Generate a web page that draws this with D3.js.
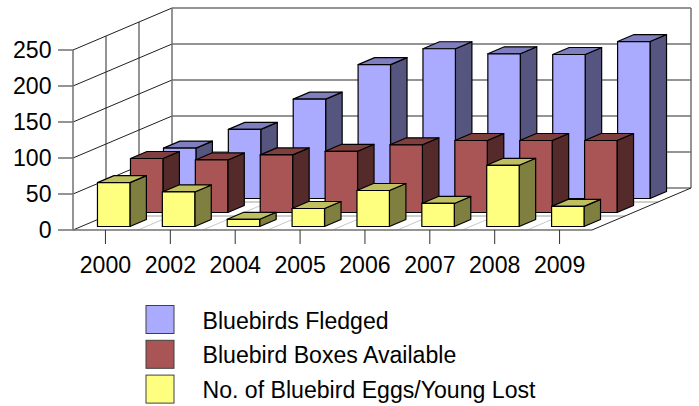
<!DOCTYPE html>
<html>
<head>
<meta charset="utf-8">
<script src="https://cdn.jsdelivr.net/npm/d3@7"></script>
<style>
  html, body { margin: 0; padding: 0; background: #fff; }
  svg { display: block; }
  text { font-family: "Liberation Sans", Arial, sans-serif; font-size: 23.1px; fill: #000; }
</style>
</head>
<body>
<div id="chart"></div>
<script>
var years = ["2000", "2002", "2004", "2005", "2006", "2007", "2008", "2009"];
var fledged = [70, 96, 138, 186, 208, 201, 200, 218];
var boxes = [75, 73, 80, 85, 94, 100, 100, 100];
var lost = [61, 48, 10, 25, 50, 32, 85, 28];
var yTicks = [0, 50, 100, 150, 200, 250];
var seriesNames = ["Bluebirds Fledged", "Bluebird Boxes Available", "No. of Bluebird Eggs/Young Lost"];

var w = 699, h = 406;
var x0 = 73, x1 = 592, floorY = 230, wallH = 180;
var depth = [99, -42]; // shift of the back wall against the front edge

var x = d3.scaleBand().domain(years).range([x0, x1]).paddingInner(0.5).paddingOuter(0.25);
var band = d3.scaleBand().domain(years).range([x0, x1]);
var y = d3.scaleLinear().domain([0, 250]).range([floorY, floorY - wallH]);
// z runs from the front edge (0) to the back wall (1)
var z = d3.scaleBand().domain([2, 1, 0]).range([0, 1]).paddingInner(0.5).paddingOuter(0.25);

var rows = [
  { i: 0, values: fledged, front: "#aaaaff", top: "#7f7fbf", side: "#55557f" },
  { i: 1, values: boxes, front: "#aa5555", top: "#7f3f3f", side: "#552a2a" },
  { i: 2, values: lost, front: "#ffff7f", top: "#bfbf5f", side: "#7f7f3f" }
];

function px(xv, zv) { return xv + zv * depth[0]; }
function py(yv, zv) { return yv + zv * depth[1]; }
function pts(list) {
  return list.map(function(p) { return px(p[0], p[2]) + "," + py(p[1], p[2]); }).join(" ");
}

var svg = d3.select("#chart").append("svg").attr("width", w).attr("height", h);
var wall = svg.append("g").attr("fill", "none").attr("stroke", "#707070").attr("stroke-width", 1.5);

// floor grid
years.slice(1).forEach(function(d) {
  wall.append("line").attr("stroke", "#c8c8c8").attr("stroke-width", 1)
    .attr("x1", band(d)).attr("y1", floorY)
    .attr("x2", px(band(d), 1)).attr("y2", py(floorY, 1));
});
[1 / 3, 2 / 3].forEach(function(t) {
  wall.append("line").attr("stroke", "#a0a0a0").attr("stroke-width", 1)
    .attr("x1", px(x0, t)).attr("y1", py(floorY, t))
    .attr("x2", px(x1, t)).attr("y2", py(floorY, t));
  wall.append("line")
    .attr("x1", px(x0, t)).attr("y1", py(y(250), t))
    .attr("x2", px(x0, t)).attr("y2", py(floorY, t));
});

// gridlines on the back and side walls
yTicks.forEach(function(t) {
  wall.append("line").attr("x1", px(x0, 1)).attr("x2", px(x1, 1)).attr("y1", py(y(t), 1)).attr("y2", py(y(t), 1))
    .attr("stroke", t === 0 ? "#303030" : "#707070").attr("stroke-width", t === 0 ? 1 : 1.5);
  wall.append("line").attr("x1", x0).attr("y1", y(t)).attr("x2", px(x0, 1)).attr("y2", py(y(t), 1))
    .attr("stroke", "#202020").attr("stroke-width", 1);
  wall.append("line").attr("x1", x0 - 15).attr("x2", x0).attr("y1", y(t)).attr("y2", y(t));
  svg.append("text").attr("x", 51.5).attr("y", y(t) + 8).attr("text-anchor", "end").text(t);
});
wall.append("line").attr("x1", x0).attr("x2", x0).attr("y1", y(250)).attr("y2", floorY);
wall.append("line").attr("x1", px(x0, 1)).attr("x2", px(x0, 1)).attr("y1", py(y(250), 1)).attr("y2", py(floorY, 1));
wall.append("line").attr("x1", px(x1, 1)).attr("x2", px(x1, 1)).attr("y1", py(y(250), 1)).attr("y2", py(floorY, 1));
wall.append("line").attr("x1", x0).attr("x2", x1).attr("y1", floorY).attr("y2", floorY);
wall.append("line").attr("x1", x1).attr("y1", floorY).attr("x2", px(x1, 1)).attr("y2", py(floorY, 1))
  .attr("stroke", "#202020").attr("stroke-width", 1);

// x ticks and labels
years.forEach(function(d) {
  var c = band(d) + band.bandwidth() / 2;
  wall.append("line").attr("x1", c).attr("x2", c).attr("y1", floorY).attr("y2", floorY + 14)
    .attr("stroke", "#303030").attr("stroke-width", 1);
  svg.append("text").attr("x", c).attr("y", 273).attr("text-anchor", "middle").text(d);
});

// bars, back row first
rows.forEach(function(r) {
  var z0 = z(r.i), z1 = z0 + z.bandwidth();
  var g = svg.append("g").selectAll("g").data(r.values).enter().append("g")
    .attr("stroke", "#000").attr("stroke-width", 1.2).attr("stroke-linejoin", "round");
  g.each(function(v, k) {
    var a = x(years[k]), b = a + x.bandwidth(), t = y(v), s = d3.select(this);
    s.append("polygon").attr("fill", r.side).attr("points", pts([[b, t, z0], [b, t, z1], [b, floorY, z1], [b, floorY, z0]]));
    s.append("polygon").attr("fill", r.top).attr("points", pts([[a, t, z0], [a, t, z1], [b, t, z1], [b, t, z0]]));
    s.append("polygon").attr("fill", r.front).attr("points", pts([[a, t, z0], [b, t, z0], [b, floorY, z0], [a, floorY, z0]]));
  });
});

// legend
var legend = svg.append("g").selectAll("g").data(seriesNames).enter().append("g")
  .attr("transform", function(d, i) { return "translate(146," + (305.5 + i * 34.8) + ")"; });
legend.append("rect").attr("width", 28).attr("height", 28)
  .attr("fill", function(d, i) { return rows[i].front; })
  .attr("stroke", "#404040").attr("stroke-width", 1);
legend.append("text").attr("x", 56.5).attr("y", 23).text(function(d) { return d; });
</script>
</body>
</html>
